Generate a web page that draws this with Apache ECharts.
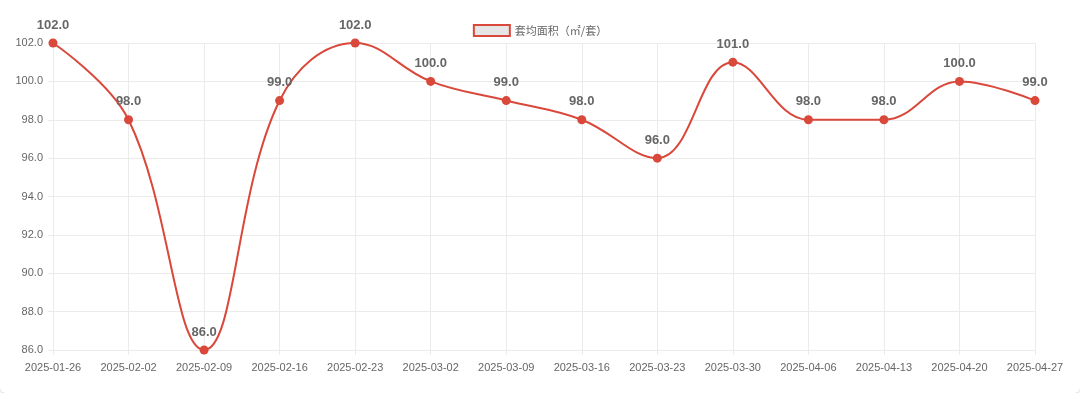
<!DOCTYPE html>
<html>
<head>
<meta charset="utf-8">
<script src="https://cdn.jsdelivr.net/npm/echarts@6/dist/echarts.min.js"></script>
<style>
  html, body { margin: 0; padding: 0; background: #fff; }
  #card { width: 1080px; height: 393px; background: #fff; border-radius: 0 0 6px 6px;
          box-shadow: 0 2px 2px rgba(0,0,0,0.12); }
  #chart { width: 1080px; height: 393px; }
</style>
</head>
<body>
<div id="card"><div id="chart"></div></div>
<script>
// weekly dates and average unit area
let dates = ['2025-01-26', '2025-02-02', '2025-02-09', '2025-02-16', '2025-02-23', '2025-03-02', '2025-03-09',
             '2025-03-16', '2025-03-23', '2025-03-30', '2025-04-06', '2025-04-13', '2025-04-20', '2025-04-27'];
let areas = [102, 98, 86, 99, 102, 100, 99, 98, 96, 101, 98, 98, 100, 99];
let seriesName = '套均面积（㎡/套）';

let chart = echarts.init(document.getElementById('chart'));
let lineColor = '#d9483b';
let gridColor = '#ebebeb';

option = {
    animation: false,
    grid: { left: 53, right: 45, top: 43, bottom: 43 },
    legend: {
        top: 19,
        left: 'center',
        itemWidth: 36,
        itemHeight: 11,
        icon: 'rect',
        textStyle: { color: '#666', fontSize: 11, fontFamily: 'Noto Sans CJK SC' },
        data: [{
            name: seriesName,
            itemStyle: { color: '#e6e6e6', borderColor: lineColor, borderWidth: 2 }
        }]
    },
    xAxis: {
        type: 'category',
        data: dates,
        boundaryGap: false,
        axisLine: { lineStyle: { color: gridColor } },
        axisTick: { show: true, length: 5, lineStyle: { color: gridColor } },
        axisLabel: { color: '#666', fontSize: 11, margin: 12, interval: 0, fontFamily: 'Liberation Sans' },
        splitLine: { show: true, lineStyle: { color: gridColor } }
    },
    yAxis: {
        type: 'value',
        min: 86,
        max: 102,
        interval: 2,
        axisLine: { show: true, lineStyle: { color: gridColor } },
        axisTick: { show: true, length: 5, lineStyle: { color: gridColor } },
        axisLabel: {
            color: '#666', fontSize: 11, margin: 10, fontFamily: 'Liberation Sans',
            formatter: function (v) { return v.toFixed(1); }
        },
        splitLine: { lineStyle: { color: gridColor } }
    },
    series: [{
        name: seriesName,
        type: 'line',
        data: areas,
        smooth: 0.4,
        symbol: 'circle',
        symbolSize: 9,
        color: lineColor,
        lineStyle: { color: lineColor, width: 2 },
        itemStyle: { color: lineColor },
        label: {
            show: true,
            position: 'top',
            distance: 7,
            color: '#666',
            fontWeight: 'bold',
            fontSize: 13,
            fontFamily: 'Liberation Sans',
            formatter: function (p) { return p.value.toFixed(1); }
        }
    }]
};
chart.setOption(option);
</script>
</body>
</html>
